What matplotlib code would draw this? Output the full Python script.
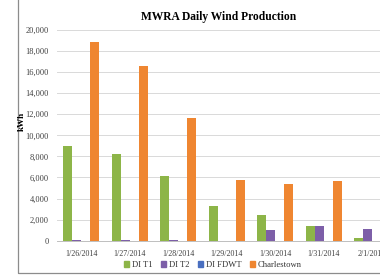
import matplotlib.pyplot as plt
import matplotlib.patches as mpatches
import numpy as np

# daily production per turbine, kWh
dates = ["1/26/2014", "1/27/2014", "1/28/2014", "1/29/2014", "1/30/2014", "1/31/2014", "2/1/2014"]
di_t1 = [8950, 8250, 6100, 3300, 2450, 1350, 300]
di_t2 = [25, 20, 25, 0, 1000, 1400, 1150]
di_fdwt = [0, 0, 0, 0, 0, 0, 0]
charlestown = [18900, 16550, 11650, 5750, 5350, 5650, 5500]

series = [("DI T1", di_t1, "#8db548"),
          ("DI T2", di_t2, "#7d5fa8"),
          ("DI FDWT", di_fdwt, "#4a6fc0"),
          ("Charlestown", charlestown, "#ef8631")]

plt.rcParams['font.family'] = ['Liberation Serif', 'DejaVu Serif']

fig = plt.figure(figsize=(3.8, 2.79), dpi=100)
# axes run past the right edge, the source picture is cropped there
ax = fig.add_axes([57/380, 38.3/279, 339.5/380, 210.7/279])

x = np.arange(len(dates))
w = 0.186
for i, (name, vals, col) in enumerate(series):
    ax.bar(x + (i - 1.5) * w, vals, w, color=col, label=name, zorder=3)

ax.set_xlim(-0.5, len(dates) - 0.5)
ax.set_ylim(0, 20000)
ax.set_yticks(np.arange(0, 20001, 2000))
ax.set_yticklabels(["0" if v == 0 else f"{v:,}" for v in range(0, 20001, 2000)])
ax.set_xticks(x)
ax.set_xticklabels(dates)
ax.tick_params(axis='both', length=0, labelsize=5.8, colors="#404040")
ax.tick_params(axis='y', pad=6, labelsize=6.0)
ax.tick_params(axis='x', pad=7)
ax.grid(axis='y', color="#d9d9d9", linewidth=0.7, zorder=0)
for s in ["top", "right", "left"]:
    ax.spines[s].set_visible(False)
ax.spines["bottom"].set_color("#bfbfbf")
ax.spines["bottom"].set_linewidth(0.7)

fig.text(219/380, 1 - 17/279, "MWRA Daily Wind Production", ha="center", va="center",
         fontsize=8.3, fontweight="bold")
fig.text(22/380, 1 - 121/279, "kWh", ha="center", va="center", rotation=90,
         fontsize=6.6, fontweight="bold")

handles = [mpatches.Patch(color=c, label=n) for n, v, c in series]
fig.legend(handles=handles, loc="center", bbox_to_anchor=(213/380, 14/279), ncol=4,
           frameon=False, fontsize=6.2, handlelength=0.6, handleheight=0.6,
           handletextpad=0.3, columnspacing=1.0, labelcolor="#333333")

# outer chart border
fig.patches.append(mpatches.Rectangle((18/380, 6/279), 1.0, 1.2, transform=fig.transFigure,
                                      fill=False, edgecolor="#8c8c8c", linewidth=0.9))

fig.savefig("out.png", dpi=100)
